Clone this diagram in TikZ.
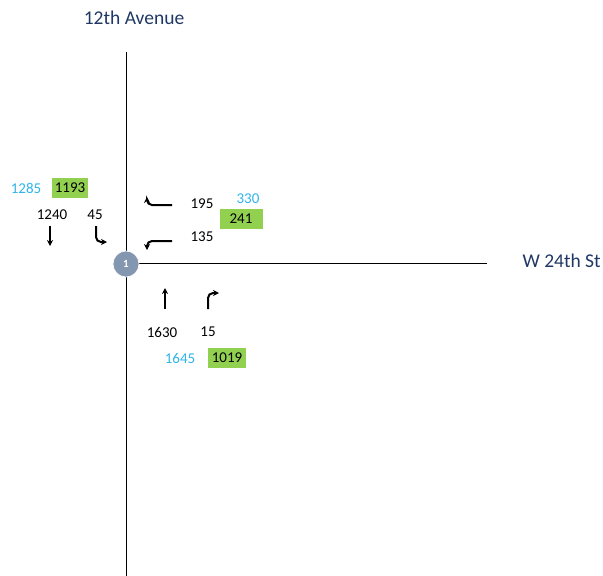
\documentclass[tikz,border=0pt]{standalone}
\usepackage{fontspec}
\setmainfont{Carlito}
\usetikzlibrary{arrows.meta}
\definecolor{streetblue}{HTML}{203864}
\definecolor{futurecyan}{HTML}{2FB4EA}
\definecolor{boxgreen}{HTML}{92D050}
\definecolor{circlegray}{HTML}{8497B0}
\tikzset{
  street/.style={text=streetblue, font=\fontsize{19.5}{20}\selectfont},
  vol/.style={font=\fontsize{15}{15}\selectfont},
  future/.style={vol, text=futurecyan},
  greenbox/.style={vol, fill=boxgreen, minimum width=40pt, minimum height=20pt, inner sep=0pt},
  lane/.style={line width=2pt, rounded corners=5pt, -{Stealth[length=6pt,width=6pt]}}
}
\begin{document}
\begin{tikzpicture}[x=1pt, y=-1pt]
  \useasboundingbox (0,0) rectangle (603,576);
  % roads
  \draw[line width=0.8pt] (126,52) -- (126,576);
  \draw[line width=0.8pt] (126,263) -- (487,263);
  \node[street] (ave) at (134,18) {12th Avenue};
  \node[street, anchor=west] (st) at (519,261) {W 24th St};
  \node[circle, fill=circlegray, draw=white, line width=0.6pt, minimum size=26pt, inner sep=0pt, text=white, font=\bfseries\fontsize{11}{11}\selectfont] (int1) at (126,264) {1};
  % volumes
  \foreach \x/\y/\t in {52/215/1240, 95/215/45, 202/204/195, 202/237/135, 162/332/1630, 208/332/15}
    {\node[vol] (v\t) at (\x,\y) {\t};}
  \foreach \x/\y/\t in {26/188/1285, 248/199/330, 180/358/1645}
    {\node[future] (f\t) at (\x,\y) {\t};}
  \node[greenbox, minimum width=36pt] (g1193) at (70,188) {1193};
  \node[greenbox, minimum width=43pt] (g241) at (241,219) {241};
  \node[greenbox, minimum width=38pt] (g1019) at (227,358) {1019};
  % lane arrows
  \draw[lane] (50,226) -- (50,246);
  \draw[lane] (96,226) -- (96,242) -- (107,242);
  \draw[lane] (172,205) -- (147,205) -- (147,197);
  \draw[lane] (172,241) -- (147,241) -- (147,250);
  \draw[lane] (165,309) -- (165,288);
  \draw[lane] (208,309) -- (208,293) -- (219,293);
\end{tikzpicture}
\end{document}
